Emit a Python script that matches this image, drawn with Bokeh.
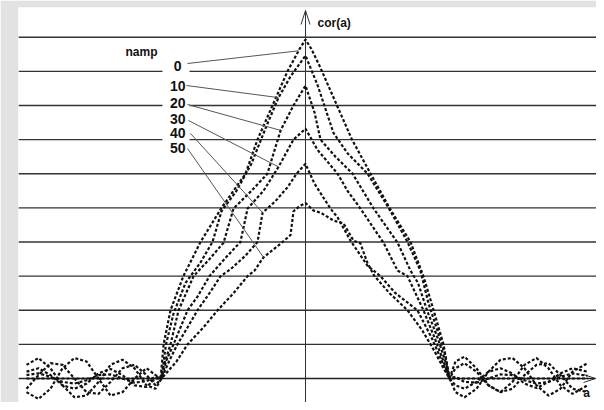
import numpy as np
from bokeh.plotting import figure
from bokeh.models import Range1d, Label
from bokeh.embed import file_html
from bokeh.resources import INLINE

# ---------------- data ----------------
namp_labels = ["0", "10", "20", "30", "40", "50"]
grid_levels = [0.1, 0.2, 0.3, 0.4, 0.5, 0.6, 0.7, 0.8, 0.9, 1.0]

tail_left_a = [-93, -89, -85, -81, -77, -73, -69, -65, -61, -57, -53, -50]
tail_right_a = [50, 53, 57, 61, 65, 69, 73, 77, 81, 85, 89, 94]

# namp 0
a_n0 = [-48.3, -47.3, -45, -40.7, -35, -28, -20, -16, -11, -6, -2, 0, 2, 5, 10, 15.5, 21.7, 28, 35, 39.3, 42.7, 46, 48]
c_n0 = [0, .10, .20, .30, .40, .50, .60, .70, .80, .90, .965, .993, .965, .91, .81, .70, .60, .50, .40, .30, .20, .10, 0]
tl_n0 = [0, 0, 0, 0, 0, 0, 0, 0, 0, 0, 0, 0]
tr_n0 = [0, 0, 0, 0, 0, 0, 0, 0, 0, 0, 0, 0]

# namp 10
a_n10 = [-48, -46.5, -44, -40, -35, -31, -28, -23, -18, -13, -9, -5, 0, 4, 9.3, 14, 20.7, 27.7, 34, 38.3, 41, 44, 46.5, 48]
c_n10 = [0, .10, .19, .28, .34, .40, .49, .55, .63, .74, .823, .885, .946, .86, .72, .66, .60, .50, .40, .316, .22, .14, .07, 0]
tl_n10 = [.01, .015, .005, -.01, -.015, -.005, .01, .012, 0, -.012, -.008, .005]
tr_n10 = [.005, -.01, -.012, 0, .012, .01, -.005, -.015, -.01, .005, .015, .008]

# namp 20
a_n20 = [-48.3, -47.5, -45, -42.3, -37.3, -32, -27.3, -24, -18, -12.7, -8.3, -4, 0, 3, 5, 10, 15.7, 22.7, 30.7, 35, 37.5, 40.5, 44, 47, 48]
c_n20 = [0, .03, .10, .20, .30, .35, .398, .498, .55, .60, .727, .80, .858, .78, .70, .65, .60, .498, .398, .316, .28, .20, .12, .04, 0]
tl_n20 = [.02, .03, .01, -.02, -.03, -.015, .015, .028, .01, -.02, -.025, 0]
tr_n20 = [-.02, -.03, -.01, .02, .03, .015, -.015, -.028, -.01, .015, .03, .02]

# namp 30
a_n30 = [-48, -46.5, -44, -39.3, -36, -32, -27, -21.7, -19.3, -14, -9, -4, 0, 4, 10.7, 14, 18.3, 26, 30.7, 34, 39.3, 43, 46, 48]
c_n30 = [0, .05, .10, .20, .24, .30, .35, .40, .498, .55, .62, .70, .732, .67, .60, .55, .498, .398, .316, .30, .20, .12, .05, 0]
tl_n30 = [-.03, .01, .045, .04, 0, -.04, -.045, -.01, .03, .04, .01, -.02]
tr_n30 = [.03, .045, .02, -.02, -.04, -.03, .01, .04, .045, .01, -.03, -.04]

# namp 40
a_n40 = [-48, -45.5, -42.7, -39.3, -36, -32, -28.3, -25, -20, -16, -14.3, -12.7, -10, -6, -3, 0, 3, 8.3, 10.7, 15, 20.7, 25, 30, 37.3, 42, 45, 48]
c_n40 = [0, .05, .10, .15, .20, .25, .30, .32, .36, .40, .486, .498, .52, .56, .60, .629, .571, .498, .472, .404, .33, .30, .25, .20, .12, .06, 0]
tl_n40 = [.04, .06, .03, -.02, -.055, -.05, -.01, .04, .055, .03, -.02, -.03]
tr_n40 = [-.04, -.055, -.03, .02, .055, .06, .03, -.02, -.05, -.03, .02, .045]

# namp 50
a_n50 = [-48, -46, -43, -39.3, -34, -29.3, -24, -19.3, -17, -14, -9, -5, -4, -2, 0, 2.7, 5, 9.3, 12.7, 14, 16, 18.3, 20.7, 23, 28, 34, 39, 43, 46, 48]
c_n50 = [0, .02, .05, .10, .15, .20, .25, .30, .316, .355, .39, .42, .49, .505, .514, .492, .486, .463, .454, .434, .404, .396, .337, .30, .25, .20, .14, .08, .03, 0]
tl_n50 = [-.04, -.06, -.03, .03, .06, .05, 0, -.05, -.04, 0, .03, .01]
tr_n50 = [.05, .064, .03, -.02, -.04, -.01, .04, .06, .03, -.02, -.045, -.02]

# points (lag) on each curve where the label leader lines end
leader_target_a = [-2.3, -9, -8.3, -9, -14.3, -14]

series = [
    (a_n0, c_n0, tl_n0, tr_n0),
    (a_n10, c_n10, tl_n10, tr_n10),
    (a_n20, c_n20, tl_n20, tr_n20),
    (a_n30, c_n30, tl_n30, tr_n30),
    (a_n40, c_n40, tl_n40, tr_n40),
    (a_n50, c_n50, tl_n50, tr_n50),
]

# ---------------- layout (pixel geometry of the reference) ----------------
W, H = 596, 402
PX_A = 3.0        # pixels per lag unit
PX_C = 341.3      # pixels per correlation unit
ORIG_X, ORIG_Y = 305, 378   # pixel of the origin inside the figure
FRAME_L, FRAME_R, FRAME_T, FRAME_B = 18, W, 7, H


def ax(px):
    return (px - ORIG_X) / PX_A


def cy(py):
    return (ORIG_Y - py) / PX_C


p = figure(width=W, height=H, output_backend="svg", toolbar_location=None,
           x_range=Range1d(ax(FRAME_L), ax(FRAME_R)),
           y_range=Range1d(cy(FRAME_B), cy(FRAME_T)),
           x_axis_location=None, y_axis_location=None,
           min_border_left=FRAME_L, min_border_right=W - FRAME_R,
           min_border_top=FRAME_T, min_border_bottom=H - FRAME_B)
p.grid.visible = False
p.outline_line_color = None
p.background_fill_color = "white"
p.border_fill_color = "#e2e2e2"

xs0, xs1 = ax(FRAME_L), ax(FRAME_R)

# horizontal reference lines
p.segment(x0=[xs0] * len(grid_levels), x1=[xs1] * len(grid_levels),
          y0=grid_levels, y1=grid_levels, line_color="#333333", line_width=1.4)

# white box behind the namp labels
p.quad(left=[ax(162)], right=[ax(189)], bottom=[cy(151)], top=[cy(57)],
       fill_color="white", line_color=None)

# axes with open arrow heads
tip_y = cy(10)
p.segment(x0=[0], y0=[cy(FRAME_B)], x1=[0], y1=[tip_y], line_color="#333333", line_width=1)
p.multi_line(xs=[[-4.5 / PX_A, 0, 4.5 / PX_A]], ys=[[tip_y - 14 / PX_C, tip_y, tip_y - 14 / PX_C]],
             line_color="#333333", line_width=1)
tip_x = ax(595)
p.segment(x0=[xs0], y0=[0], x1=[tip_x], y1=[0], line_color="#222222", line_width=1.4)
p.multi_line(xs=[[tip_x - 12 / PX_A, tip_x, tip_x - 12 / PX_A]], ys=[[4 / PX_C, 0, -4 / PX_C]],
             line_color="#333333", line_width=1)

# correlation curves (dotted)
for (a_b, c_b, tl, tr) in series:
    xs = list(tail_left_a) + list(a_b) + list(tail_right_a)
    ys = list(tl) + list(c_b) + list(tr)
    p.line(xs, ys, line_color="#111111", line_width=2.2, line_dash="3 2")

# leader lines from labels to curves
label_y_px = [65, 85, 102, 118, 132, 147]
leader_start_px = [(187, 63), (186, 85), (187, 104), (188, 120), (190, 133), (187, 148)]
for i, (a_b, c_b, tl, tr) in enumerate(series):
    ta = leader_target_a[i]
    tc = float(np.interp(ta, a_b, c_b))
    sx, sy = leader_start_px[i]
    p.line([ax(sx), ta], [cy(sy), tc], line_color="#555555", line_width=1)

FONT = "Liberation Sans"

for i, lab in enumerate(namp_labels):
    rx = 181 if lab == "0" else 185
    p.add_layout(Label(x=ax(rx), y=cy(label_y_px[i]), text=lab, text_align="right",
                       text_baseline="middle", text_font=FONT, text_font_size="14px",
                       text_font_style="bold", text_color="#111111"))

p.add_layout(Label(x=ax(141), y=cy(51), text="namp", text_align="center", text_baseline="middle",
                   text_font=FONT, text_font_size="12px", text_font_style="bold", text_color="#111111"))
p.add_layout(Label(x=ax(317), y=cy(22), text="cor(a)", text_align="left", text_baseline="middle",
                   text_font=FONT, text_font_size="12px", text_font_style="bold", text_color="#111111"))
p.add_layout(Label(x=ax(586), y=cy(392), text="a", text_align="center", text_baseline="middle",
                   text_font=FONT, text_font_size="12px", text_font_style="bold", text_color="#111111"))

open("out.html", "w").write(file_html(p, INLINE))
